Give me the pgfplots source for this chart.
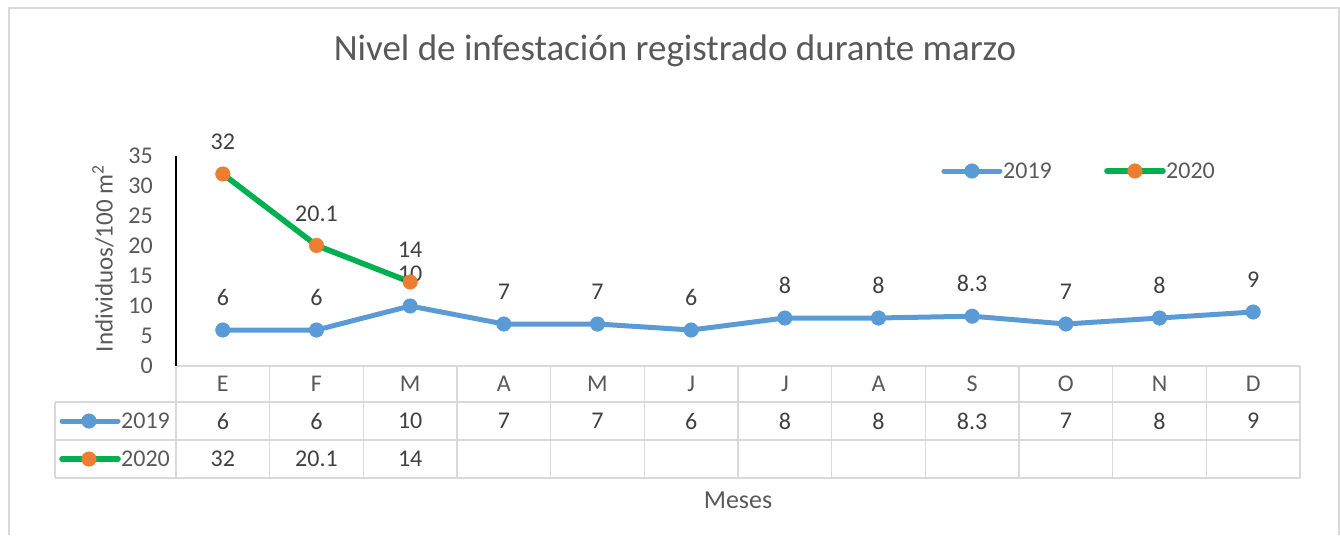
\documentclass[border=0pt]{standalone}
\usepackage{pgfplots}
\pgfplotsset{compat=1.18}
\usepackage{fontspec}
\setmainfont{Carlito}
\definecolor{cA}{HTML}{5B9BD5}
\definecolor{cBl}{HTML}{00B050}
\definecolor{cBm}{HTML}{ED7D31}
\definecolor{txt}{HTML}{595959}
\definecolor{lbl}{HTML}{404040}
\definecolor{gridc}{HTML}{D9D9D9}
\newcommand\fs{\fontsize{24bp}{28bp}\selectfont}
\begin{document}
\begin{tikzpicture}
\begin{axis}[
  scale only axis, width=1124bp, height=210bp,
  xmin=-0.5, xmax=11.5, ymin=0, ymax=35,
  clip=false,
  axis x line*=bottom, axis y line*=left,
  x axis line style={draw=gridc, line width=1.5bp},
  y axis line style={draw=black, line width=1.5bp},
  major tick length=0pt,
  /pgf/number format/assume math mode=true,
  ytick={0,5,...,35},
  yticklabel style={font=\fs, text=txt, anchor=east, inner sep=0pt, xshift=-23bp},
  xtick={0,...,11},
  xticklabels={E,F,M,A,M,J,J,A,S,O,N,D},
  xticklabel style={font=\fs, text=txt, anchor=center, inner sep=0pt, yshift=-18bp},
]
% bounding box and frame
\path (axis cs:-2.379,61) rectangle (axis cs:11.927,-28.167);
\draw[gridc, line width=1.5bp] (axis cs:-2.283,-28.167) -- (axis cs:-2.283,59.67) -- (axis cs:11.916,59.67) -- (axis cs:11.916,-28.167);
% table grid
\draw[gridc, line width=1.5bp] (axis cs:-1.79,-6) -- (axis cs:11.5,-6);
\draw[gridc, line width=1.5bp] (axis cs:-1.79,-12.333) -- (axis cs:11.5,-12.333);
\draw[gridc, line width=1.5bp] (axis cs:-1.79,-18.667) -- (axis cs:11.5,-18.667);
\draw[gridc, line width=1.5bp] (axis cs:-1.79,-6) -- (axis cs:-1.79,-18.667);
\pgfplotsinvokeforeach{-0.5,0.5,...,11.5}{
  \draw[gridc, line width=1.5bp] (axis cs:#1,0) -- (axis cs:#1,-18.667);
}
% data
\addplot[cA, line width=5bp, line join=round, line cap=round,
  mark=*, mark size=7.3bp, mark options={fill=cA, draw=cA, line width=0.4bp},
  nodes near coords,
  every node near coord/.append style={font=\fs, text=lbl, inner sep=0pt, anchor=south, yshift=24bp}]
  coordinates {(0,6)(1,6)(2,10)(3,7)(4,7)(5,6)(6,8)(7,8)(8,8.3)(9,7)(10,8)(11,9)};
\addplot[cBl, line width=5.6bp, line join=round, line cap=round,
  mark=*, mark size=7.3bp, mark options={fill=cBm, draw=cBm, line width=0.4bp},
  nodes near coords,
  every node near coord/.append style={font=\fs, text=lbl, inner sep=0pt, anchor=south, yshift=24bp}]
  coordinates {(0,32)(1,20.1)(2,14)};
% legend (top right)
\addplot[forget plot, cA, line width=5bp, line cap=round, mark=*, mark size=7.3bp,
  mark options={fill=cA, draw=cA, line width=0.4bp}, mark indices={2}]
  coordinates {(7.699,32.5)(7.998,32.5)(8.297,32.5)};
\addplot[forget plot, cBl, line width=5.6bp, line cap=round, mark=*, mark size=7.3bp,
  mark options={fill=cBm, draw=cBm, line width=0.4bp}, mark indices={2}]
  coordinates {(9.439,32.5)(9.738,32.5)(10.037,32.5)};
\node[font=\fs, text=txt, anchor=west, inner sep=0pt] at (axis cs:8.329,32.5) {2019};
\node[font=\fs, text=txt, anchor=west, inner sep=0pt] at (axis cs:10.069,32.5) {2020};
% table legend keys
\addplot[forget plot, cA, line width=5bp, line cap=round, mark=*, mark size=7.3bp,
  mark options={fill=cA, draw=cA, line width=0.4bp}, mark indices={2}]
  coordinates {(-1.717,-9.167)(-1.429,-9.167)(-1.119,-9.167)};
\addplot[forget plot, cBl, line width=5.6bp, line cap=round, mark=*, mark size=7.3bp,
  mark options={fill=cBm, draw=cBm, line width=0.4bp}, mark indices={2}]
  coordinates {(-1.717,-15.5)(-1.429,-15.5)(-1.119,-15.5)};
\node[font=\fs, text=txt, anchor=west, inner sep=0pt] at (axis cs:-1.087,-9.167) {2019};
\node[font=\fs, text=txt, anchor=west, inner sep=0pt] at (axis cs:-1.087,-15.5) {2020};
% table values
\begin{scope}[every node/.style={font=\fs, text=lbl, inner sep=0pt, anchor=center}]
\node at (axis cs:0,-9.167) {6};
\node at (axis cs:1,-9.167) {6};
\node at (axis cs:2,-9.167) {10};
\node at (axis cs:3,-9.167) {7};
\node at (axis cs:4,-9.167) {7};
\node at (axis cs:5,-9.167) {6};
\node at (axis cs:6,-9.167) {8};
\node at (axis cs:7,-9.167) {8};
\node at (axis cs:8,-9.167) {8.3};
\node at (axis cs:9,-9.167) {7};
\node at (axis cs:10,-9.167) {8};
\node at (axis cs:11,-9.167) {9};
\node at (axis cs:0,-15.5) {32};
\node at (axis cs:1,-15.5) {20.1};
\node at (axis cs:2,-15.5) {14};
\end{scope}
% labels
\node[rotate=90, font=\fontsize{25bp}{29bp}\selectfont, text=txt, inner sep=0pt] at (axis cs:-1.279,17.9) {Individuos/100 m\textsuperscript{2}};
\node[font=\fontsize{26bp}{30bp}\selectfont, text=txt, inner sep=0pt] at (axis cs:5.5,-22.33) {Meses};
\node[font=\fontsize{37bp}{42bp}\selectfont, text=txt, inner sep=0pt] at (axis cs:4.827,52.5) {Nivel de infestación registrado durante marzo};
\end{axis}
\end{tikzpicture}
\end{document}
